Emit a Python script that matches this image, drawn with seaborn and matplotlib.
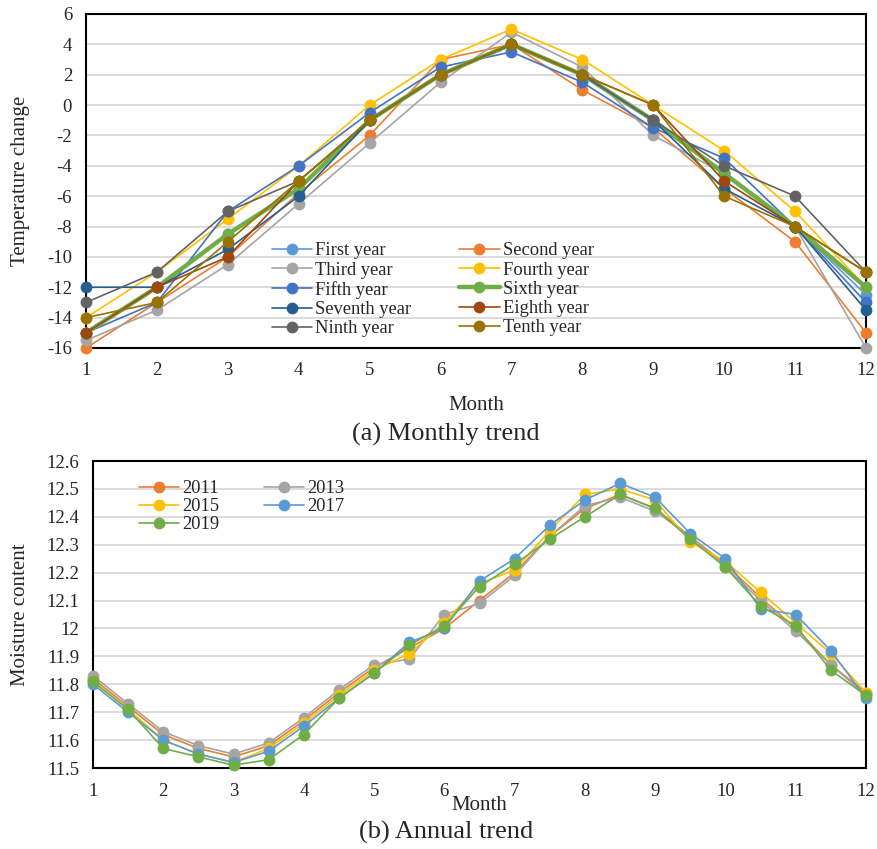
import numpy as np
import pandas as pd
import matplotlib
matplotlib.use("Agg")
import matplotlib.pyplot as plt
import seaborn as sns

sns.set_theme(style="white")
plt.rcParams['font.family'] = ['Liberation Serif', 'DejaVu Serif']
plt.rcParams['axes.unicode_minus'] = False

# ---------------- data: (a) monthly trend ----------------
months = list(range(1, 13))
year_names = ["First year", "Second year", "Third year", "Fourth year", "Fifth year",
              "Sixth year", "Seventh year", "Eighth year", "Ninth year", "Tenth year"]
first_year   = [-15, -12, -8.5, -5.5, -1, 2, 4, 2, -1, -4.5, -8, -12.5]
second_year  = [-16, -13, -10, -5.8, -2, 3, 4, 1, -1.5, -5.5, -9, -15]
third_year   = [-15.5, -13.5, -10.5, -6.5, -2.5, 1.5, 4.8, 2.5, -2, -4.5, -8, -16]
fourth_year  = [-14, -11, -7.5, -4, 0, 3, 5, 3, 0, -3, -7, -12]
fifth_year   = [-15, -13, -7, -4, -0.5, 2.5, 3.5, 1.5, -1.5, -3.5, -8, -13]
sixth_year   = [-15, -12, -8.5, -5.5, -1, 2, 4, 2, -1, -4.5, -8, -12]
seventh_year = [-12, -12, -9.5, -6, -1, 2, 4, 2, -1, -5.5, -8, -13.5]
eighth_year  = [-15, -12, -10, -5, -1, 2, 4, 2, 0, -5, -8, -11]
ninth_year   = [-13, -11, -7, -5, -1, 2, 4, 2, -1, -4, -6, -11]
tenth_year   = [-14, -13, -9, -5, -1, 2, 4, 2, 0, -6, -8, -11]
year_values = [first_year, second_year, third_year, fourth_year, fifth_year,
               sixth_year, seventh_year, eighth_year, ninth_year, tenth_year]
year_colors = ["#5B9BD5", "#ED7D31", "#A5A5A5", "#FFC000", "#4472C4",
               "#70AD47", "#255E91", "#9E480E", "#636363", "#997300"]

# ---------------- data: (b) annual trend ----------------
half_months = [1, 1.5, 2, 2.5, 3, 3.5, 4, 4.5, 5, 5.5, 6, 6.5, 7, 7.5, 8, 8.5,
               9, 9.5, 10, 10.5, 11, 11.5, 12]
years_b = ["2011", "2013", "2015", "2017", "2019"]
m2011 = [11.82, 11.72, 11.62, 11.57, 11.54, 11.58, 11.67, 11.77, 11.86, 11.93, 12.00, 12.10,
         12.20, 12.33, 12.43, 12.48, 12.43, 12.33, 12.23, 12.11, 12.00, 11.87, 11.77]
m2013 = [11.83, 11.73, 11.63, 11.58, 11.55, 11.59, 11.68, 11.78, 11.87, 11.89, 12.05, 12.09,
         12.19, 12.33, 12.44, 12.47, 12.42, 12.33, 12.22, 12.10, 11.99, 11.87, 11.76]
m2015 = [11.81, 11.71, 11.60, 11.55, 11.52, 11.57, 11.66, 11.76, 11.85, 11.91, 12.02, 12.16,
         12.21, 12.35, 12.48, 12.50, 12.46, 12.31, 12.24, 12.13, 12.02, 11.91, 11.77]
m2017 = [11.80, 11.70, 11.60, 11.55, 11.52, 11.56, 11.65, 11.75, 11.84, 11.95, 12.00, 12.17,
         12.25, 12.37, 12.46, 12.52, 12.47, 12.34, 12.25, 12.07, 12.05, 11.92, 11.75]
m2019 = [11.81, 11.71, 11.57, 11.54, 11.51, 11.53, 11.62, 11.75, 11.84, 11.94, 12.01, 12.15,
         12.23, 12.32, 12.40, 12.48, 12.43, 12.32, 12.22, 12.08, 12.01, 11.85, 11.76]
moist_values = [m2011, m2013, m2015, m2017, m2019]
moist_colors = ["#ED7D31", "#A5A5A5", "#FFC000", "#5B9BD5", "#70AD47"]

W, H = 878, 849
fig = plt.figure(figsize=(W / 100, H / 100), dpi=100)

def ax_rect(l, t, r, b):
    return [l / W, 1 - b / H, (r - l) / W, (b - t) / H]

ax1 = fig.add_axes(ax_rect(86, 14, 866, 348))
ax2 = fig.add_axes(ax_rect(93, 461, 866, 768))

TICK_FS = 13.5
LAB_FS = 15
LEG_FS = 13.3
TITLE_FS = 19

def row_major(handles, labels, ncol):
    # reorder so that matplotlib's column-major fill shows entries row by row
    n = len(handles)
    nrow = int(np.ceil(n / ncol))
    order = []
    for c in range(ncol):
        for r in range(nrow):
            i = r * ncol + c
            if i < n:
                order.append(i)
    return [handles[i] for i in order], [labels[i] for i in order]

# ---- top chart ----
df_a = pd.DataFrame({
    "Month": np.tile(months, len(year_names)),
    "Value": np.concatenate(year_values),
    "Series": np.repeat(year_names, len(months)),
})
for name, col in zip(year_names, year_colors):
    sub = df_a[df_a["Series"] == name]
    lw = 3.2 if name == "Sixth year" else 1.2
    sns.lineplot(data=sub, x="Month", y="Value", ax=ax1, color=col, lw=lw,
                 marker="o", markersize=8.5, markeredgewidth=0, label=name,
                 zorder=3, clip_on=False)

ax1.set_xlim(1, 12)
ax1.set_ylim(-16, 6)
ax1.set_xticks(months)
ax1.set_yticks(np.arange(-16, 7, 2))
ax1.yaxis.grid(True, color="#D9D9D9", lw=1.3)
ax1.xaxis.grid(False)
ax1.set_axisbelow(True)
ax1.set_xlabel("Month", fontsize=LAB_FS, labelpad=12)
ax1.set_ylabel("Temperature change", fontsize=LAB_FS, labelpad=12)
ax1.tick_params(axis="y", labelsize=TICK_FS, length=0, pad=10)
ax1.tick_params(axis="x", labelsize=TICK_FS, length=0, pad=10)
h, l = ax1.get_legend_handles_labels()
h, l = row_major(h, l, 2)
ax1.legend(h, l, loc="lower left", bbox_to_anchor=(0.219, -0.012), ncol=2, frameon=False,
           fontsize=LEG_FS, handlelength=2.2, handletextpad=0.15, columnspacing=2.6,
           labelspacing=0.12, borderaxespad=0.4)

# ---- bottom chart ----
df_b = pd.DataFrame({
    "Month": np.tile(half_months, len(years_b)),
    "Value": np.concatenate(moist_values),
    "Year": np.repeat(years_b, len(half_months)),
})
for name, col in zip(years_b, moist_colors):
    sub = df_b[df_b["Year"] == name]
    sns.lineplot(data=sub, x="Month", y="Value", ax=ax2, color=col, lw=1.2,
                 marker="o", markersize=8.5, markeredgewidth=0, label=name,
                 zorder=3, clip_on=False)

ax2.set_xlim(1, 12)
ax2.set_ylim(11.5, 12.6)
ax2.set_xticks(months)
ax2.set_yticks(np.round(np.arange(11.5, 12.61, 0.1), 1))
ax2.set_yticklabels(["11.5", "11.6", "11.7", "11.8", "11.9", "12", "12.1",
                     "12.2", "12.3", "12.4", "12.5", "12.6"])
ax2.yaxis.grid(True, color="#D9D9D9", lw=1.3)
ax2.xaxis.grid(False)
ax2.set_axisbelow(True)
ax2.set_xlabel("Month", fontsize=LAB_FS, labelpad=-3)
ax2.set_ylabel("Moisture content", fontsize=LAB_FS, labelpad=12)
ax2.tick_params(axis="y", labelsize=TICK_FS, length=0, pad=10)
ax2.tick_params(axis="x", labelsize=TICK_FS, length=0, pad=11)
h, l = ax2.get_legend_handles_labels()
h, l = row_major(h, l, 2)
ax2.legend(h, l, loc="upper left", bbox_to_anchor=(0.04, 0.985), ncol=2, frameon=False,
           fontsize=LEG_FS, handlelength=2.2, handletextpad=0.15, columnspacing=2.4,
           labelspacing=0.05, borderaxespad=0.4)

for ax in (ax1, ax2):
    for s in ax.spines.values():
        s.set_visible(True)
        s.set_color("black")
        s.set_linewidth(1.5)

fig.text(446 / W, 1 - 434 / H, "(a) Monthly trend", ha="center", va="center", fontsize=TITLE_FS)
fig.text(446 / W, 1 - 832 / H, "(b) Annual trend", ha="center", va="center", fontsize=TITLE_FS)

fig.savefig("out.png", dpi=100, facecolor="white")
